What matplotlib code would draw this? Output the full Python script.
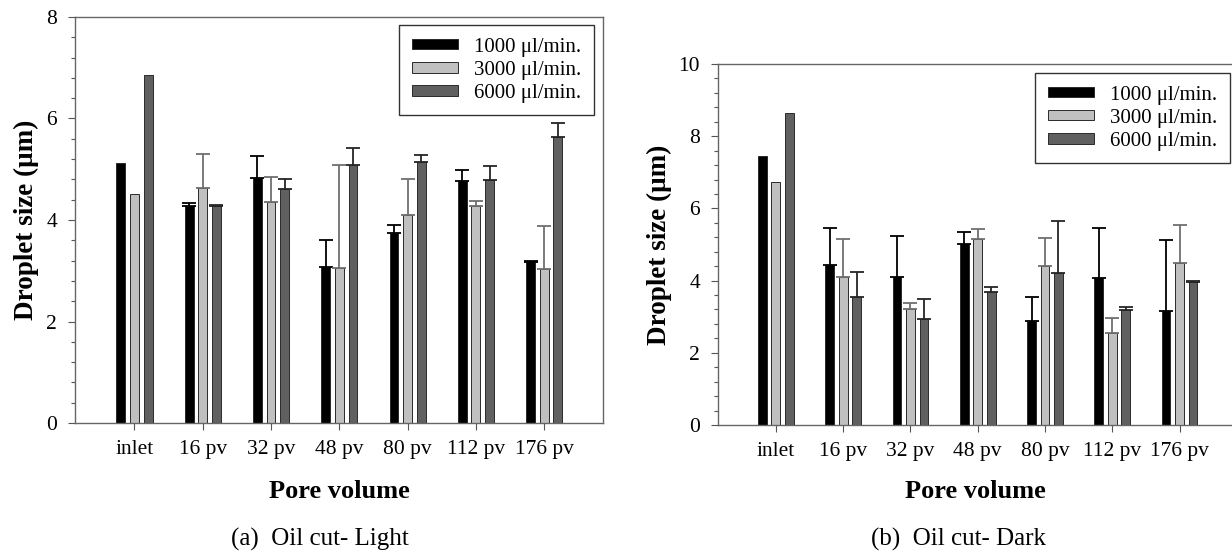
import matplotlib
matplotlib.use("Agg")
import matplotlib.pyplot as plt
from matplotlib.ticker import MultipleLocator
import numpy as np

plt.rcParams['font.family'] = ['Liberation Serif', 'DejaVu Serif']
plt.rcParams['mathtext.fontset'] = 'stix'

categories = ["inlet", "16 pv", "32 pv", "48 pv", "80 pv", "112 pv", "176 pv"]
series_names = ["1000 μl/min.", "3000 μl/min.", "6000 μl/min."]

# (a) Oil cut - Light
light_1000 = [5.12, 4.28, 4.82, 3.08, 3.74, 4.76, 3.18]
light_1000_top = [None, 4.33, 5.26, 3.60, 3.90, 4.98, 3.20]
light_3000 = [4.51, 4.63, 4.35, 3.06, 4.10, 4.28, 3.04]
light_3000_top = [None, 5.30, 4.85, 5.08, 4.80, 4.38, 3.88]
light_6000 = [6.86, 4.28, 4.62, 5.09, 5.15, 4.79, 5.63]
light_6000_top = [None, 4.29, 4.81, 5.42, 5.29, 5.07, 5.91]

# (b) Oil cut - Dark
dark_1000 = [7.46, 4.43, 4.11, 5.02, 2.88, 4.08, 3.15]
dark_1000_top = [None, 5.47, 5.24, 5.36, 3.54, 5.45, 5.12]
dark_3000 = [6.72, 4.09, 3.20, 5.15, 4.41, 2.54, 4.48]
dark_3000_top = [None, 5.14, 3.39, 5.43, 5.17, 2.97, 5.53]
dark_6000 = [8.64, 3.55, 2.95, 3.68, 4.20, 3.19, 3.97]
dark_6000_top = [None, 4.23, 3.48, 3.82, 5.66, 3.28, 3.99]

bar_colors = ["#000000", "#c0c0c0", "#606060"]
err_colors = ["#000000", "#707070", "#252525"]

fig = plt.figure(figsize=(12.32, 5.55), dpi=100)

def draw(ax, vals, tops, ymax, xlim, legend_anchor, ylab_x, xlab_y):
    x = np.arange(len(categories))
    offs = [-0.2, 0.0, 0.2]
    w = 0.13
    for i in range(3):
        ax.bar(x + offs[i], vals[i], width=w, color=bar_colors[i],
               edgecolor="#2a2a2a", linewidth=0.7, zorder=2,
               label=series_names[i])
        xs, ys, es = [], [], []
        for j, t in enumerate(tops[i]):
            if t is None:
                continue
            xs.append(x[j] + offs[i]); ys.append(vals[i][j]); es.append(t - vals[i][j])
        ax.errorbar(xs, ys, yerr=[np.zeros(len(es)), es], fmt='none',
                    ecolor=err_colors[i], elinewidth=1.3, capsize=5,
                    capthick=1.3, zorder=3)
    ax.set_xlim(*xlim)
    ax.set_ylim(0, ymax)
    ax.set_xticks(x)
    ax.set_xticklabels(categories, fontsize=15.5)
    ax.yaxis.set_major_locator(MultipleLocator(2))
    ax.yaxis.set_minor_locator(MultipleLocator(0.4))
    ax.tick_params(axis='y', which='major', length=5, width=0.8, labelsize=15.5,
                   color="#555555", pad=8)
    ax.tick_params(axis='y', which='minor', length=3, width=0.8, color="#555555")
    ax.tick_params(axis='x', which='major', length=5, width=0.8, color="#555555",
                   labelsize=15.5, pad=7)
    for s in ax.spines.values():
        s.set_color("#666666")
        s.set_linewidth(1.0)
    ax.set_ylabel("Droplet size (μm)", fontsize=19.5, fontweight='bold')
    ax.yaxis.set_label_coords(ylab_x, 0.5)
    ax.set_xlabel("Pore volume", fontsize=19, fontweight='bold')
    ax.xaxis.set_label_coords(0.5, xlab_y)
    leg = ax.legend(loc='upper right', bbox_to_anchor=legend_anchor,
                    borderaxespad=0, fontsize=15, frameon=True, fancybox=False,
                    handlelength=2.2, handleheight=0.4, labelspacing=0.2,
                    handletextpad=0.8, borderpad=0.6)
    leg.get_frame().set_edgecolor("#000000")
    leg.get_frame().set_linewidth(1.0)
    return ax

ax1 = fig.add_axes([0.0609, 0.2378, 0.4285, 0.7316])
draw(ax1, [light_1000, light_3000, light_6000],
     [light_1000_top, light_3000_top, light_6000_top],
     8, (-0.87, 6.86), (0.983, 0.980), -0.068, -0.140)

ax2 = fig.add_axes([0.5828, 0.2342, 0.4172, 0.6505])
draw(ax2, [dark_1000, dark_3000, dark_6000],
     [dark_1000_top, dark_3000_top, dark_6000_top],
     10, (-0.86, 6.78), (0.996, 0.975), -0.089, -0.152)
ax2.spines['right'].set_visible(False)

fig.text(0.2597, 1 - 539/555, "(a)  Oil cut- Light", ha='center', va='center', fontsize=18)
fig.text(0.7776, 1 - 539/555, "(b)  Oil cut- Dark", ha='center', va='center', fontsize=18)

fig.savefig("out.png", dpi=100)
